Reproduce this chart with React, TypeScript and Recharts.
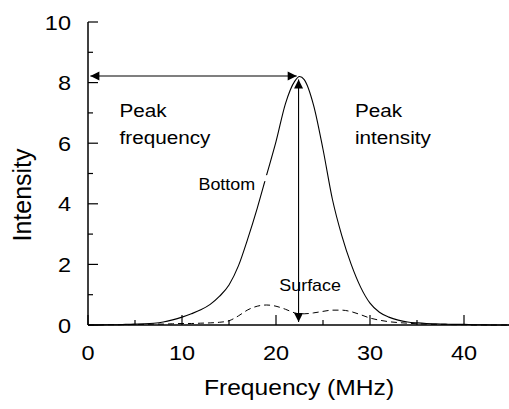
import { LineChart, Line, XAxis, YAxis, ReferenceLine, ReferenceDot } from 'recharts';

const freq = [0, 1, 2, 3, 4, 5, 6, 7, 8, 9, 10, 11, 12, 13, 14, 15, 16, 17, 18, 19, 20, 21, 22, 22.5, 23, 24, 25, 26, 27, 28, 29, 30, 31, 32, 33, 34, 35, 36, 37, 38, 39, 40, 41, 42, 43, 44, 45];
const bottom = [0, 0, 0.01, 0.01, 0.02, 0.03, 0.04, 0.06, 0.1, 0.17, 0.26, 0.37, 0.5, 0.68, 0.95, 1.32, 1.95, 2.85, 3.85, 4.95, 6.05, 7.3, 8.05, 8.2, 8.1, 7.25, 5.8, 4.15, 2.95, 2.0, 1.25, 0.72, 0.42, 0.26, 0.16, 0.1, 0.07, 0.05, 0.04, 0.03, 0.02, 0.02, 0.01, 0.01, 0, 0, 0];
const surface = [0, 0, 0.01, 0.01, 0.01, 0.02, 0.02, 0.03, 0.03, 0.04, 0.05, 0.05, 0.06, 0.07, 0.09, 0.14, 0.3, 0.5, 0.62, 0.66, 0.62, 0.52, 0.4, 0.37, 0.37, 0.4, 0.45, 0.49, 0.49, 0.44, 0.34, 0.23, 0.16, 0.11, 0.08, 0.06, 0.04, 0.03, 0.02, 0.02, 0.01, 0.01, 0, 0, 0, 0, 0];
const xTicks = [0, 5, 10, 15, 20, 25, 30, 35, 40, 45];
const yTicks = [0, 1, 2, 3, 4, 5, 6, 7, 8, 9, 10];

const peakFreq = 22.3;
const peakLevel = 8.22;

const data = freq.map((f, i) => ({ f, bottom: bottom[i], surface: surface[i] }));

const FONT = '"Liberation Sans", Arial, Helvetica, sans-serif';
const STRETCH = 1.12;

function SText({ x, y, size, anchor = 'start', children }: any) {
  return (
    <text
      transform={`translate(${x},${y}) scale(${STRETCH},1)`}
      fontFamily={FONT}
      fontSize={size}
      textAnchor={anchor}
      fill="#000"
    >
      {children}
    </text>
  );
}

// ticks point into the plot; long ones at labelled values
function BottomTick({ x, y, payload }: any) {
  const major = payload.value % 10 === 0;
  return (
    <g>
      <line x1={x} y1={y} x2={x} y2={y - (major ? 10 : 5)} stroke="#000" strokeWidth={1.2} />
      {major && payload.value < 45 && (
        <SText x={x} y={y + 35} size={21} anchor="middle">{payload.value}</SText>
      )}
    </g>
  );
}

function TopTick({ x, y, payload }: any) {
  const major = payload.value % 10 === 0;
  return <line x1={x} y1={y} x2={x} y2={y + (major ? 10 : 5)} stroke="#000" strokeWidth={1.2} />;
}

function LeftTick({ x, y, payload }: any) {
  const major = payload.value % 2 === 0;
  return (
    <g>
      <line x1={x} y1={y} x2={x + (major ? 10 : 5)} y2={y} stroke="#000" strokeWidth={1.2} />
      {major && (
        <SText x={x - 17} y={y + 7.5} size={21} anchor="end">{payload.value}</SText>
      )}
    </g>
  );
}

function RightTick({ x, y, payload }: any) {
  const major = payload.value % 2 === 0;
  return <line x1={x} y1={y} x2={x - (major ? 10 : 5)} y2={y} stroke="#000" strokeWidth={1.2} />;
}

function Arrow(props: any) {
  const { x1, y1, x2, y2 } = props;
  const len = 9;
  const half = 4.5;
  const dx = x2 - x1;
  const dy = y2 - y1;
  const d = Math.sqrt(dx * dx + dy * dy) || 1;
  const ux = dx / d;
  const uy = dy / d;
  const head = (tx: number, ty: number, sx: number, sy: number) => {
    const bx = tx - sx * len;
    const by = ty - sy * len;
    return `${tx},${ty} ${bx - sy * half},${by + sx * half} ${bx + sy * half},${by - sx * half}`;
  };
  return (
    <g>
      <line x1={x1} y1={y1} x2={x2} y2={y2} stroke="#000" strokeWidth={1.1} />
      <polygon points={head(x2, y2, ux, uy)} fill="#000" />
      <polygon points={head(x1, y1, -ux, -uy)} fill="#000" />
    </g>
  );
}

function Note({ cx, cy, lines, size, gap }: any) {
  return (
    <g>
      {/* the label box clips a bit of the curve, as in the source figure */}
      {gap && <rect x={cx + 65} y={cy - 15} width={5} height={6} fill="#fff" />}
      {lines.map((t: string, i: number) => (
        <SText key={t} x={cx} y={cy + i * 27} size={size}>{t}</SText>
      ))}
    </g>
  );
}

export default function App() {
  return (
    <div style={{ position: 'absolute', left: 0, top: 0, background: '#fff' }}>
      <LineChart width={509} height={409} data={data} margin={{ top: 22, right: -2, bottom: 0, left: 0 }}>
        <XAxis
          xAxisId="b"
          dataKey="f"
          type="number"
          domain={[0, 45]}
          ticks={xTicks}
          height={84}
          axisLine={{ stroke: '#000', strokeWidth: 1.5 }}
          tickLine={false}
          tickSize={0}
          tickMargin={0}
          tick={<BottomTick />}
          interval={0}
        />
        <XAxis
          xAxisId="t"
          orientation="top"
          dataKey="f"
          type="number"
          domain={[0, 45]}
          ticks={xTicks}
          height={0}
          axisLine={{ stroke: '#000', strokeWidth: 1.5 }}
          tickLine={false}
          tickSize={0}
          tickMargin={0}
          tick={<TopTick />}
          interval={0}
        />
        <YAxis
          yAxisId="l"
          type="number"
          domain={[0, 10]}
          ticks={yTicks}
          width={88}
          axisLine={{ stroke: '#000', strokeWidth: 1.5 }}
          tickLine={false}
          tickSize={0}
          tickMargin={0}
          tick={<LeftTick />}
          interval={0}
        />
        <YAxis
          yAxisId="r"
          orientation="right"
          type="number"
          domain={[0, 10]}
          ticks={yTicks}
          width={0}
          axisLine={{ stroke: '#000', strokeWidth: 1.5 }}
          tickLine={false}
          tickSize={0}
          tickMargin={0}
          tick={<RightTick />}
          interval={0}
        />
        <Line xAxisId="b" yAxisId="l" type="monotone" dataKey="bottom" stroke="#000" strokeWidth={1.1} dot={false} isAnimationActive={false} />
        <Line xAxisId="b" yAxisId="l" type="monotone" dataKey="surface" stroke="#000" strokeWidth={1} strokeDasharray="6 4" dot={false} isAnimationActive={false} />
        <ReferenceDot xAxisId="b" yAxisId="l" x={3.35} y={6.87} r={0} shape={(p: any) => <Note {...p} lines={['Peak', 'frequency']} size={18.5} />} />
        <ReferenceDot xAxisId="b" yAxisId="l" x={28.4} y={6.87} r={0} shape={(p: any) => <Note {...p} lines={['Peak', 'intensity']} size={18.5} />} />
        <ReferenceDot xAxisId="b" yAxisId="l" x={11.75} y={4.45} r={0} shape={(p: any) => <Note {...p} lines={['Bottom']} size={16} gap />} />
        <ReferenceDot xAxisId="b" yAxisId="l" x={20.35} y={1.12} r={0} shape={(p: any) => <Note {...p} lines={['Surface']} size={16} />} />
        <ReferenceLine
          xAxisId="b"
          yAxisId="l"
          segment={[{ x: 0.25, y: peakLevel }, { x: peakFreq - 0.1, y: peakLevel }]}
          shape={<Arrow />}
        />
        <ReferenceLine
          xAxisId="b"
          yAxisId="l"
          segment={[{ x: peakFreq + 0.1, y: 8.1 }, { x: peakFreq + 0.1, y: 0.1 }]}
          shape={<Arrow />}
        />
        <SText x={299} y={395} size={22} anchor="middle">Frequency (MHz)</SText>
        <text transform="translate(31,195) rotate(-90)" fontFamily={FONT} fontSize={25} textAnchor="middle" fill="#000">Intensity</text>
      </LineChart>
    </div>
  );
}
